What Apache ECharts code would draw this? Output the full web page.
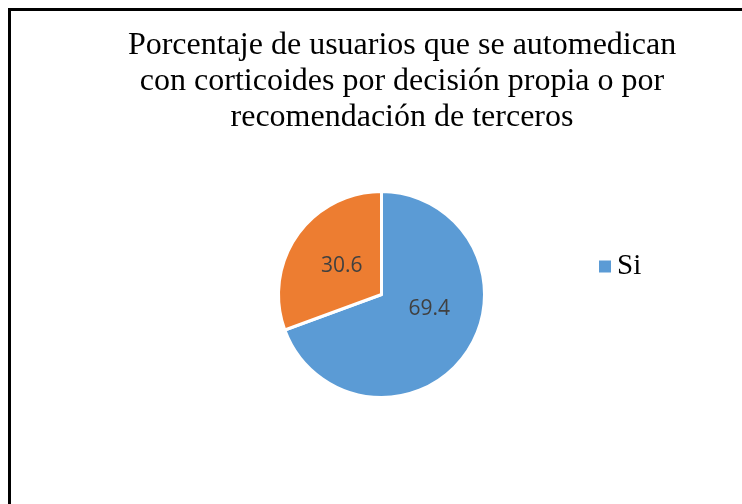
<!DOCTYPE html>
<html>
<head>
<meta charset="utf-8">
<script src="https://cdn.jsdelivr.net/npm/echarts@6/dist/echarts.min.js"></script>
<style>
  html, body { margin: 0; padding: 0; background: #fff; }
  #chart { width: 742px; height: 504px; }
</style>
</head>
<body>
<div id="chart"></div>
<script>
const titleText = 'Porcentaje de usuarios que se automedican\ncon corticoides por decisión propia o por\nrecomendación de terceros'
const categories = ['Si', 'No']
const values = [69.4, 30.6]
const legendItems = ['Si']
const colors = ['#5B9BD5', '#ED7D31']

const chart = echarts.init(document.getElementById('chart'))
chart.setOption({
  animation: false,
  color: colors,
  graphic: [
    {
      type: 'rect',
      shape: { x: 9.5, y: 9.5, width: 800, height: 600 },
      style: { fill: 'none', stroke: '#000', lineWidth: 3 }
    }
  ],
  title: {
    text: titleText,
    left: 397,
    top: 23,
    textAlign: 'center',
    textStyle: {
      fontFamily: 'Liberation Serif',
      fontWeight: 'normal',
      fontSize: 32,
      lineHeight: 36,
      color: '#000'
    }
  },
  legend: {
    data: legendItems,
    left: 597,
    top: 252,
    padding: 0,
    icon: 'rect',
    itemWidth: 14,
    itemHeight: 14,
    itemGap: 6,
    textStyle: {
      fontFamily: 'Liberation Serif',
      fontSize: 29,
      color: '#000'
    }
  },
  series: [
    {
      type: 'pie',
      center: [381.5, 294.5],
      radius: [0, 103],
      startAngle: 90,
      clockwise: true,
      itemStyle: { borderColor: '#fff', borderWidth: 3 },
      label: {
        show: true,
        position: 'inside',
        formatter: p => p.value.toFixed(1),
        fontFamily: 'Open Sans',
        fontSize: 21,
        color: '#404040'
      },
      labelLine: { show: false },
      emphasis: { disabled: true },
      data: categories.map((c, i) => ({
        name: c,
        value: values[i],
        label: i === 0 ? { offset: [3, -17] } : { offset: [5, 3] }
      }))
    }
  ]
})
</script>
</body>
</html>
